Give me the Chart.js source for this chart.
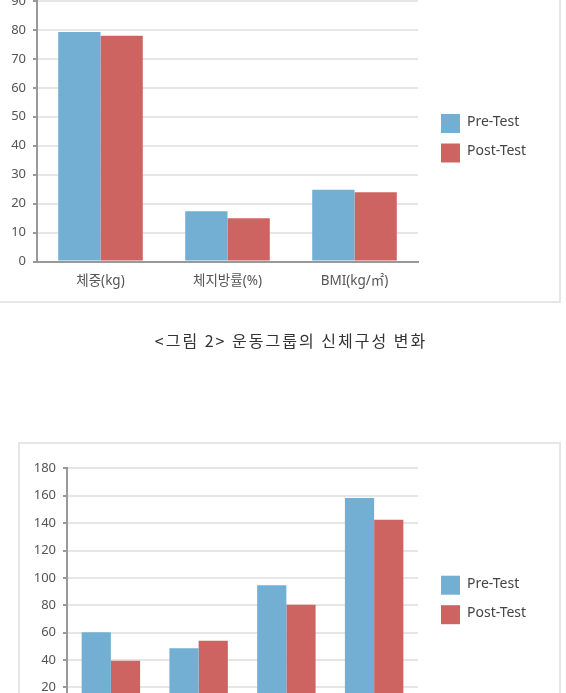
<!DOCTYPE html>
<html><head><meta charset="utf-8">
<script src="https://cdn.jsdelivr.net/npm/chart.js@4"></script>
<style>
html,body{margin:0;padding:0;background:#fff;width:566px;height:693px;overflow:hidden;}
.box{position:absolute;border:2px solid #e6e6e6;box-sizing:border-box;background:#fff;}
canvas{position:absolute;left:0;}
#cap{position:absolute;left:8px;width:566px;top:329px;text-align:center;font-family:"Noto Sans CJK KR";font-size:16px;letter-spacing:2px;color:#333;line-height:22px;}
</style></head><body>
<div class="box" style="left:-10px;top:-100px;width:571px;height:403px"></div>
<div class="box" style="left:18px;top:442px;width:543px;height:400px"></div>
<canvas id="c1" width="566" height="310" style="top:0"></canvas>
<div id="cap">&lt;그림 2&gt; 운동그룹의 신체구성 변화</div>
<canvas id="c2" width="566" height="340" style="top:430px"></canvas>
<script>
// ---- data ----
const seriesNames = ['Pre-Test', 'Post-Test'];
const categories1 = ['체중(kg)', '체지방률(%)', 'BMI(kg/㎡)'];
const pre1 = [79.3, 17.4, 24.8];
const post1 = [78.0, 14.9, 23.9];
const categories2 = ['', '', '', '']; // category labels are cropped out of the reference
const pre2 = [60.3, 48.6, 94.6, 158.3];
const post2 = [39.6, 54.2, 80.4, 142.5];

const FONT = '"Noto Sans", "Noto Sans CJK KR", sans-serif';
const BLUE = '#72afd3', RED = '#cd6462';

const legendPlugin = {
  id: 'sideLegend',
  afterDraw(chart, args, o) {
    const ctx = chart.ctx;
    ctx.save();
    chart.data.datasets.forEach((ds, i) => {
      const top = o.y + i * o.gap;
      ctx.fillStyle = ds.backgroundColor;
      ctx.fillRect(o.x, top, 19, 19);
      ctx.fillStyle = '#444';
      ctx.font = '14px ' + FONT;
      ctx.textBaseline = 'middle';
      ctx.fillText(ds.label, o.x + 26, top + 8);
    });
    ctx.restore();
  }
};

function make(id, cats, pre, post, max, step, yWidth, padTop, xHeight, legY) {
  return new Chart(document.getElementById(id), {
    type: 'bar',
    data: {
      labels: cats,
      datasets: [
        {label: seriesNames[0], data: pre, backgroundColor: BLUE},
        {label: seriesNames[1], data: post, backgroundColor: RED}
      ]
    },
    plugins: [legendPlugin],
    options: {
      responsive: false, animation: false,
      layout: {padding: {left: 0, right: 148, top: padTop, bottom: 0}},
      categoryPercentage: 0.666, barPercentage: 1.0,
      plugins: {legend: {display: false}, tooltip: {enabled: false},
        sideLegend: {x: 441, y: legY, gap: 29.5}},
      scales: {
        x: {
          grid: {display: true, color: 'transparent', drawTicks: false},
          border: {color: '#999', width: 2},
          ticks: {color: '#555', font: {family: FONT, size: 13.5}, padding: 12},
          afterFit(s) { s.height = xHeight; }
        },
        y: {
          min: 0, max: max,
          ticks: {stepSize: step, color: '#555', font: {family: FONT, size: 13}, padding: 7},
          grid: {color: '#e6e6e6', lineWidth: 2, tickLength: 4, tickColor: '#999'},
          border: {color: '#999', width: 2},
          afterFit(s) { s.width = yWidth; s.paddingTop = 0; s.paddingBottom = 0; }
        }
      }
    }
  });
}

make('c1', categories1, pre1, post1, 90, 10, 37, 1, 48.5, 114);
make('c2', categories2, pre2, post2, 180, 20, 67, 38.3, 55.1, 145.7);
</script>
</body></html>
